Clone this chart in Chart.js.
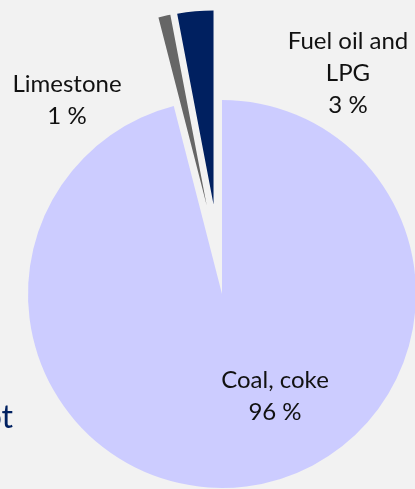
<!DOCTYPE html>
<html>
<head>
<meta charset="utf-8">
<script src="https://cdn.jsdelivr.net/npm/chart.js@4"></script>
<style>
  body { margin: 0; background: #f2f2f2; width: 415px; height: 489px; overflow: hidden; position: relative; font-family: Lato, sans-serif; }
  #wrap { position: absolute; left: 0; top: 0; width: 444px; height: 588px; }
  .lbl { position: absolute; font-size: 24px; line-height: 32px; color: #111; text-align: center; white-space: nowrap; transform: translateX(-50%); }
  #cut { position: absolute; top: 396px; right: 402px; font-size: 32px; color: #002060; white-space: nowrap; }
</style>
</head>
<body>
<div id="wrap"><canvas id="pieChart"></canvas></div>
<div class="lbl" id="lblLime" style="left:67px; top:67px;"></div>
<div class="lbl" id="lblFuel" style="left:348px; top:24px;"></div>
<div class="lbl" id="lblCoal" style="left:275px; top:363px;"></div>
<div id="cut">ot</div>
<script>
// Datos del gráfico
const categorias = ['Coal, coke', 'Limestone', 'Fuel oil and LPG'];
const etiquetas = [['Coal, coke'], ['Limestone'], ['Fuel oil and', 'LPG']];
const porcentajes = [96, 1, 3];
const colores = ['#ccccff', '#666666', '#002060'];
const separacion = [0, 90, 90]; // desplazamiento en px de cada sector
const desvio = [0, 2.8, 0];     // giro (grados) de la dirección de desplazamiento

// Etiquetas de texto
const ids = ['lblCoal', 'lblLime', 'lblFuel'];
ids.forEach((id, i) => {
    document.getElementById(id).innerHTML = etiquetas[i].concat([porcentajes[i] + ' %']).join('<br>');
});

// Sectores separados: mover el centro de cada arco sobre su bisectriz
const explotarSectores = {
    id: 'explotarSectores',
    afterDatasetUpdate(chart, args) {
        args.meta.data.forEach((arc, i) => {
            const d = separacion[i] || 0;
            if (!d) return;
            const mitad = (arc.startAngle + arc.endAngle) / 2 + (desvio[i] || 0) * Math.PI / 180;
            arc.x += Math.cos(mitad) * d;
            arc.y += Math.sin(mitad) * d;
        });
    }
};

const ctx = document.getElementById('pieChart').getContext('2d');
new Chart(ctx, {
    type: 'pie',
    data: {
        labels: categorias,
        datasets: [{
            data: porcentajes,
            backgroundColor: colores,
            borderWidth: 0
        }]
    },
    options: {
        responsive: true,
        maintainAspectRatio: false,
        animation: false,
        events: [],
        radius: 194,
        layout: { padding: 0 },
        plugins: {
            legend: { display: false },
            tooltip: { enabled: false }
        }
    },
    plugins: [explotarSectores]
});
</script>
</body>
</html>
